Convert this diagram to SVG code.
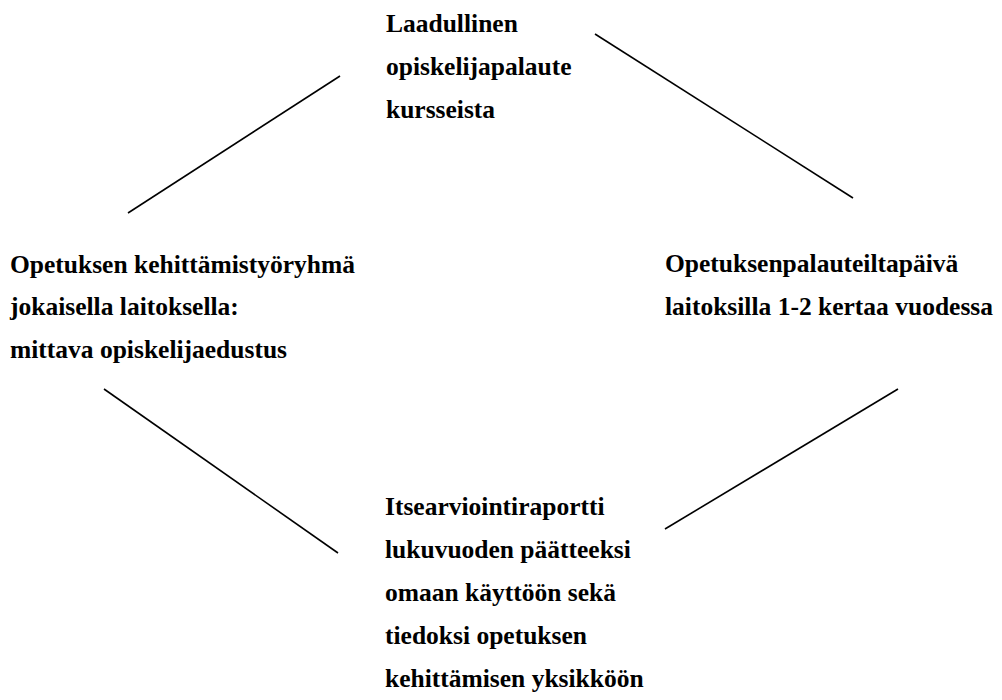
<svg xmlns="http://www.w3.org/2000/svg" width="1002" height="700" viewBox="0 0 1002 700">
<style>
.t{font-family:"Liberation Serif","Times New Roman","DejaVu Serif",serif;font-weight:bold;font-size:25.5px;fill:#000}
.c{stroke:#000;stroke-width:1.6;fill:none}
</style>
<rect width="1002" height="700" fill="#fff"/>
<g id="connectors">
<line class="c" x1="128" y1="213" x2="340" y2="76"/>
<line class="c" x1="595" y1="34" x2="853" y2="198"/>
<line class="c" x1="104" y1="389" x2="338" y2="553"/>
<line class="c" x1="665" y1="529" x2="898" y2="389"/>
</g>
<g id="node-top">
<text class="t" x="386" y="32">Laadullinen</text>
<text class="t" x="386" y="75">opiskelijapalaute</text>
<text class="t" x="386" y="118">kursseista</text>
</g>
<g id="node-left">
<text class="t" x="10" y="273">Opetuksen kehittämistyöryhmä</text>
<text class="t" x="10" y="315">jokaisella laitoksella:</text>
<text class="t" x="10" y="358">mittava opiskelijaedustus</text>
</g>
<g id="node-right">
<text class="t" x="665" y="272">Opetuksenpalauteiltapäivä</text>
<text class="t" x="665" y="315">laitoksilla 1-2 kertaa vuodessa</text>
</g>
<g id="node-bottom">
<text class="t" x="385" y="515">Itsearviointiraportti</text>
<text class="t" x="385" y="558">lukuvuoden päätteeksi</text>
<text class="t" x="385" y="601">omaan käyttöön sekä</text>
<text class="t" x="385" y="644">tiedoksi opetuksen</text>
<text class="t" x="385" y="687">kehittämisen yksikköön</text>
</g>
</svg>
